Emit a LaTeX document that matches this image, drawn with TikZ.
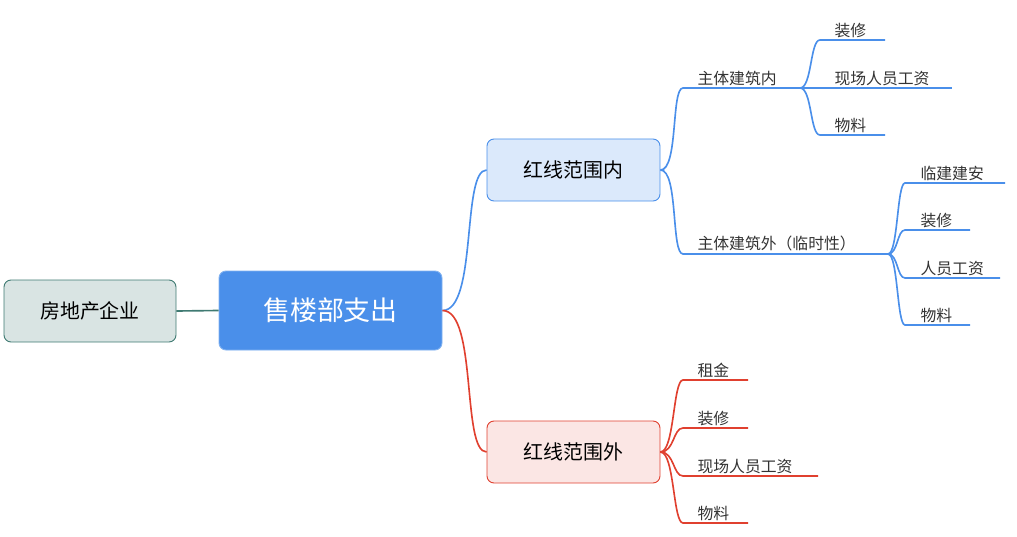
\documentclass[tikz,border=0pt]{standalone}
\usepackage{fontspec}
\setmainfont{Noto Sans CJK SC}
\definecolor{bl}{HTML}{4A8FEA}
\definecolor{rd}{HTML}{E0402F}
\definecolor{tl}{HTML}{3F7A72}
\begin{document}
\begin{tikzpicture}[x=0.03cm,y=-0.03cm,
  box/.style={draw,rounded corners=6pt,line width=0.8pt,minimum height=62*0.03cm,inner sep=0pt},
  lf/.style={anchor=south west,inner sep=2pt,font=\fontsize{13.5}{14}\selectfont,text=black!80},
  bline/.style={bl,line width=1.4pt},
  rline/.style={rd,line width=1.4pt}]
\useasboundingbox (0,0) rectangle (1017,536);
\node[box,draw=tl,fill=tl!20,minimum width=172*0.03cm,font=\fontsize{17}{18}\selectfont] (re) at (90,311) {房地产企业};
\node[box,draw=bl!70,fill=bl,text=white,minimum width=223*0.03cm,minimum height=79*0.03cm,font=\fontsize{23}{24}\selectfont] (root) at (330.5,310.5) {售楼部支出};
\draw[tl,line width=1.4pt] (re.east) -- (root.west);
\node[box,draw=bl,fill=bl!20,minimum width=173*0.03cm,font=\fontsize{17}{18}\selectfont] (in) at (573.5,170) {红线范围内};
\node[box,draw=rd,fill=rd!13,minimum width=173*0.03cm,font=\fontsize{17}{18}\selectfont] (out) at (573.5,452) {红线范围外};
\draw[bline] (root.east) .. controls +(35,0) and +(-25,0) .. (in.west);
\draw[rline] (root.east) .. controls +(35,0) and +(-25,0) .. (out.west);
% inside
\coordinate (a0) at (683,88); \coordinate (a1) at (800,88);
\coordinate (b0) at (683,254); \coordinate (b1) at (888,254);
\node[lf] (ta) at (695,88) {主体建筑内};
\node[lf] (tb) at (695,254) {主体建筑外（临时性）};
\foreach \c in {a,b} \draw[bline] (in.east) .. controls +(18,0) and +(-12,0) .. (\c0) -- (\c1);
% children of a
\foreach \n/\y/\e/\t in {c/40/885/装修,d/88/952/现场人员工资,e/135/885/物料}{
  \coordinate (\n0) at (820,\y); \coordinate (\n1) at (\e,\y);
  \node[lf] (t\n) at (832,\y) {\t};
  \draw[bline] (a1) .. controls +(12,0) and +(-10,0) .. (\n0) -- (\n1);}
\foreach \n/\y/\e/\t in {f/183/1005/临建建安,g/230/970/装修,h/278/1000/人员工资,i/325/970/物料}{
  \coordinate (\n0) at (905,\y); \coordinate (\n1) at (\e,\y);
  \node[lf] (t\n) at (918,\y) {\t};
  \draw[bline] (b1) .. controls +(10,0) and +(-8,0) .. (\n0) -- (\n1);}
\foreach \n/\y/\e/\t in {j/380/748/租金,k/428/748/装修,l/476/818/现场人员工资,m/523/748/物料}{
  \coordinate (\n0) at (683,\y); \coordinate (\n1) at (\e,\y);
  \node[lf] (t\n) at (695,\y) {\t};
  \draw[rline] (out.east) .. controls +(14,0) and +(-10,0) .. (\n0) -- (\n1);}
\end{tikzpicture}
\end{document}
